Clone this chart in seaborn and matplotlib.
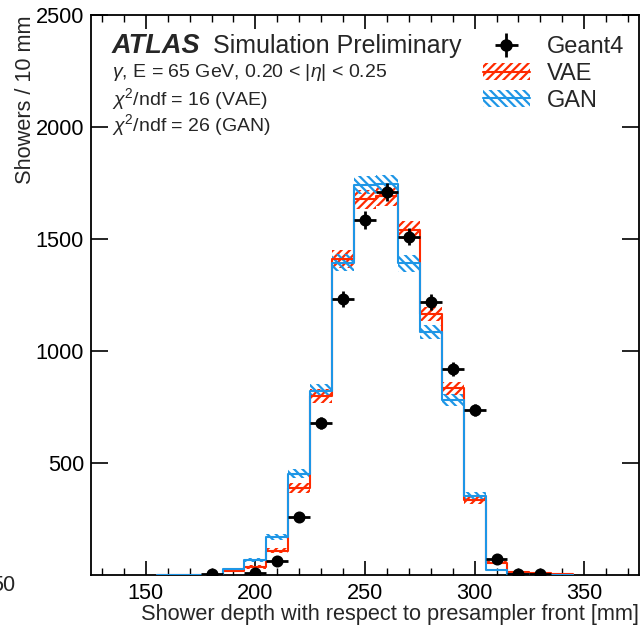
import numpy as np
import pandas as pd
import matplotlib
matplotlib.use("Agg")
import matplotlib.pyplot as plt
import seaborn as sns
from matplotlib.patches import Patch
from matplotlib.lines import Line2D
from matplotlib.ticker import MultipleLocator

# ---- data ----
centers = [160, 170, 180, 190, 200, 210, 220, 230, 240, 250, 260, 270, 280, 290, 300, 310, 320, 330, 340]
geant4 = [0, 0, 5, 0, 10, 62, 258, 680, 1232, 1585, 1711, 1510, 1218, 919, 737, 72, 6, 4, 0]
geant4_err = [0, 0, 2, 0, 3, 8, 16, 26, 35, 40, 41, 39, 35, 30, 27, 8, 2, 2, 0]
vae = [0, 0, 2, 20, 36, 108, 387, 800, 1410, 1677, 1690, 1540, 1165, 833, 335, 55, 15, 10, 3]
vae_err = [1, 1, 2, 5, 7, 12, 22, 30, 40, 41, 41, 40, 33, 28, 18, 8, 4, 3, 2]
gan = [2, 0, 2, 27, 68, 171, 451, 823, 1395, 1740, 1745, 1391, 1086, 781, 352, 22, 3, 1, 0]
gan_err = [2, 1, 2, 6, 9, 14, 20, 29, 38, 41, 41, 37, 32, 27, 19, 6, 2, 1, 1]
bin_width = 10
x_ticks = [150, 200, 250, 300, 350]
y_ticks = [500, 1000, 1500, 2000, 2500]

RED = "#ff2a00"
BLUE = "#1e96e6"

sns.set_theme(style="ticks")
plt.rcParams["font.family"] = ["Liberation Sans", "DejaVu Sans"]
plt.rcParams["mathtext.fontset"] = "custom"
plt.rcParams["mathtext.rm"] = "Liberation Sans"
plt.rcParams["mathtext.it"] = "Liberation Sans:italic"
plt.rcParams["hatch.linewidth"] = 1.6

df = pd.DataFrame({"x": centers, "geant4": geant4, "g_err": geant4_err,
                   "vae": vae, "v_err": vae_err, "gan": gan, "gan_err": gan_err})
lo = min(centers) - bin_width / 2
hi = max(centers) + bin_width / 2

fig = plt.figure(figsize=(6.44, 6.25), dpi=100)
ax = fig.add_axes([91 / 644, 50 / 625, 548 / 644, 560 / 625])

# uncertainty bands
for col, ecol, color, hatch in [("vae", "v_err", RED, "////"), ("gan", "gan_err", BLUE, "\\\\\\\\")]:
    ax.bar(df["x"], 2 * df[ecol], bottom=df[col] - df[ecol], width=bin_width,
           fill=False, hatch=hatch, edgecolor=color, linewidth=0, zorder=2)

# step histograms
for col, color, z in [("vae", RED, 3), ("gan", BLUE, 4)]:
    sns.histplot(x=df["x"], weights=df[col], binwidth=bin_width, binrange=(lo, hi),
                 element="step", fill=False, color=color, linewidth=1.5, ax=ax, zorder=z)

# Geant4 points
pts = df[df["geant4"] > 0]
ax.errorbar(pts["x"], pts["geant4"], yerr=pts["g_err"], xerr=bin_width / 2, fmt="none",
            ecolor="black", elinewidth=2, capsize=0, zorder=5)
sns.scatterplot(data=pts, x="x", y="geant4", color="black", s=75, edgecolor="black",
                linewidth=0, ax=ax, zorder=6)

FS = 15.7
ax.set_xlim(125, 375)
ax.set_ylim(0, 2500)
ax.set_xticks(x_ticks)
ax.set_yticks(y_ticks)
ax.xaxis.set_minor_locator(MultipleLocator(10))
ax.tick_params(axis="both", which="both", direction="in", top=True, right=True,
               labelsize=FS, colors="black")
ax.tick_params(axis="x", which="major", length=10, width=1.2, pad=6)
ax.tick_params(axis="x", which="minor", length=5, width=1.0)
ax.tick_params(axis="y", which="major", length=12, width=1.2, pad=5)
for s in ax.spines.values():
    s.set_linewidth(1.3)
    s.set_color("black")
ax.set_xlabel("Shower depth with respect to presampler front [mm]", loc="right", fontsize=FS, labelpad=0)
ax.set_ylabel("Showers / 10 mm", loc="top", fontsize=FS, labelpad=0)

# text
ax.text(0.038, 0.945, "ATLAS", transform=ax.transAxes, fontsize=19.5, fontweight="bold",
        fontstyle="italic", va="center")
ax.text(0.2226, 0.945, "Simulation Preliminary", transform=ax.transAxes, fontsize=18, va="center")
ax.text(0.038, 0.897, r"$\gamma$, E = 65 GeV, 0.20 < |$\eta$| < 0.25", transform=ax.transAxes,
        fontsize=14, va="center")
ax.text(0.038, 0.85, r"$\chi^2$/ndf = 16 (VAE)", transform=ax.transAxes, fontsize=14, va="center")
ax.text(0.038, 0.803, r"$\chi^2$/ndf = 26 (GAN)", transform=ax.transAxes, fontsize=14, va="center")

# legend
g_handle = ax.errorbar([], [], yerr=[], xerr=[], fmt="o", color="black", markersize=8,
                       elinewidth=2, capsize=0)
v_handle = (Patch(facecolor="none", edgecolor=RED, hatch="////", linewidth=0),
            Line2D([], [], color=RED, linewidth=1.5))
b_handle = (Patch(facecolor="none", edgecolor=BLUE, hatch="\\\\\\\\", linewidth=0),
            Line2D([], [], color=BLUE, linewidth=1.5))
leg = ax.legend([g_handle, v_handle, b_handle], ["Geant4", "VAE", "GAN"],
                loc="upper left", bbox_to_anchor=(0.715, 0.962), frameon=False,
                fontsize=17, handlelength=2.0, handletextpad=0.7, labelspacing=0.2,
                borderaxespad=0, borderpad=0)

fig.text(-0.014, 0.063, "50", fontsize=FS, ha="left", va="center")

fig.savefig("out.png", dpi=100)
